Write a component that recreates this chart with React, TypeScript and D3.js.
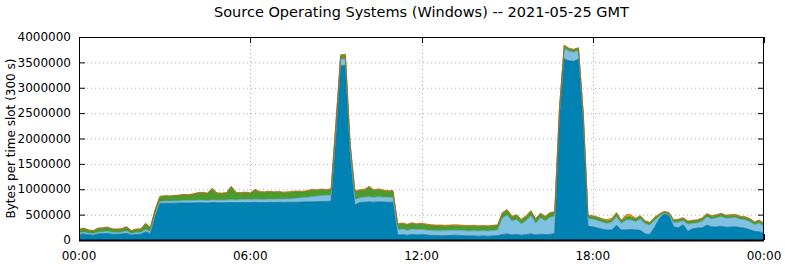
import React from "react";
import * as d3 from "d3";

// Values in thousands of bytes per 300 s slot, one value per 10 minutes (00:00 .. 24:00)
const UNIT = 1000;
const SLOT_MINUTES = 10;

const seriesNames = ["Windows A", "Windows B", "Windows C", "Windows D"];

const darkBlueK = [
  110,120,105,95,120,125,130,115,112,118,135,95,112,115,160,125,470,
  720,725,722,725,728,730,728,732,735,733,730,738,735,733,736,740,735,738,740,738,742,740,738,742,740,743,741,745,743,745,748,750,752,755,758,760,765,
  2050,3430,3440,1650,690,740,745,750,745,750,748,745,745,
  100,105,95,110,100,105,100,90,90,85,85,90,95,90,85,80,80,75,80,75,80,85,
  110,120,100,110,95,105,120,100,115,105,110,130,
  2400,3570,3530,3520,3560,2300,
  270,260,235,210,195,200,290,195,200,205,200,190,120,110,250,420,510,480,260,240,300,170,220,235,240,290,260,255,270,250,255,260,245,230,200,170,160,140,
];

const lightBlueK = [
  30,35,30,30,35,35,40,35,33,35,40,30,35,35,45,40,40,
  35,40,40,42,42,45,45,45,48,48,48,50,50,50,52,55,55,55,58,58,60,60,60,62,62,62,65,65,68,80,85,90,100,110,115,120,120,
  90,130,130,120,110,90,95,100,95,100,95,95,90,
  100,105,95,105,100,100,95,95,90,95,95,95,95,95,95,95,100,100,100,100,105,110,
  320,370,270,290,220,275,360,225,320,270,335,340,
  120,200,190,180,170,140,
  150,150,150,140,130,150,170,130,195,190,160,220,200,180,140,45,15,20,80,110,80,140,105,100,130,165,155,180,190,175,180,180,160,165,160,130,170,130,
];

const greenK = [
  62,72,58,53,72,72,77,62,62,64,82,52,60,62,115,75,80,
  90,95,93,98,100,110,107,118,137,144,132,217,130,127,132,250,135,127,132,119,183,140,137,141,133,135,124,125,134,125,112,120,133,110,117,100,110,
  140,70,70,110,150,140,140,190,130,140,122,115,120,
  105,110,105,110,105,110,105,100,95,95,90,90,90,90,90,90,95,90,90,90,90,90,
  95,95,85,85,80,85,85,80,80,80,80,75,
  60,55,45,45,45,45,
  55,55,55,55,45,45,65,50,60,60,55,55,45,45,45,35,25,30,45,45,45,50,50,50,50,50,50,50,50,50,50,50,50,50,50,45,50,45,
];

const orangeK = [
  8,8,7,7,8,8,8,8,8,8,8,8,8,8,10,10,10,
  15,15,15,15,15,15,15,15,15,15,15,15,15,15,15,15,15,15,15,15,15,15,15,15,15,15,15,15,15,15,15,15,15,15,15,15,15,
  20,20,20,20,20,20,20,20,20,20,20,20,20,
  15,15,15,15,15,15,15,15,20,20,20,20,20,20,20,20,15,15,15,15,15,15,
  15,15,15,15,15,15,15,15,15,15,15,15,
  20,15,15,15,15,15,
  15,15,15,15,30,35,15,15,45,45,15,15,15,15,15,15,15,15,15,15,15,15,15,15,15,15,15,15,15,15,15,15,15,15,15,15,15,15,
];

const xTickMinutes = [0, 360, 720, 1080, 1440];
const xTickLabels = ["00:00", "06:00", "12:00", "18:00", "00:00"];
const yTicks = [0, 500000, 1000000, 1500000, 2000000, 2500000, 3000000, 3500000, 4000000];

const titleText = "Source Operating Systems (Windows) -- 2021-05-25 GMT";
const yLabelText = "Bytes per time slot (300 s)";

const fills = ["#0082b3", "#80c1e2", "#4f9a2c", "#f2a20c"];
const strokes = ["#0a6e98", "#5aa9cf", "#3f8a22", "#b8651a"];

const W = 785, H = 264;
const M = { left: 79, right: 764, top: 37, bottom: 240 };

export default function App() {
  const rows = darkBlueK.map((_, i) => ({
    t: i * SLOT_MINUTES,
    s0: darkBlueK[i] * UNIT,
    s1: lightBlueK[i] * UNIT,
    s2: greenK[i] * UNIT,
    s3: orangeK[i] * UNIT,
  }));
  const keys = ["s0", "s1", "s2", "s3"];
  const stacked = d3.stack<any>().keys(keys)(rows);

  const x = d3.scaleLinear().domain([0, 1440]).range([M.left, M.right]);
  const y = d3.scaleLinear().domain([0, 4000000]).range([M.bottom, M.top]);

  const area = d3
    .area<any>()
    .x((d) => x(d.data.t))
    .y0((d) => y(d[0]))
    .y1((d) => y(d[1]))
    .curve(d3.curveLinear);
  const topLine = d3
    .line<any>()
    .x((d) => x(d.data.t))
    .y((d) => y(d[1]))
    .curve(d3.curveLinear);

  const font = "'DejaVu Sans', sans-serif";

  return (
    <svg
      width={W}
      height={H}
      style={{ position: "absolute", left: 0, top: 0, background: "#fff" }}
      fontFamily={font}
    >
      <rect x={0} y={0} width={W} height={H} fill="#fff" />
      {/* grid */}
      {yTicks.slice(1, -1).map((v) => (
        <line key={"gy" + v} x1={M.left} x2={M.right} y1={y(v) + 0.5} y2={y(v) + 0.5}
          stroke="#b0b0b0" strokeWidth={1} strokeDasharray="1,3" />
      ))}
      {xTickMinutes.slice(1, -1).map((m) => (
        <line key={"gx" + m} x1={Math.round(x(m)) + 0.5} x2={Math.round(x(m)) + 0.5} y1={M.top} y2={M.bottom}
          stroke="#b0b0b0" strokeWidth={1} strokeDasharray="1,3" />
      ))}
      {/* ticks */}
      {yTicks.map((v) => (
        <g key={"ty" + v}>
          <line x1={M.left} x2={M.left + 6} y1={y(v) + 0.5} y2={y(v) + 0.5} stroke="#000" />
          <line x1={M.right - 6} x2={M.right} y1={y(v) + 0.5} y2={y(v) + 0.5} stroke="#000" />
        </g>
      ))}
      {xTickMinutes.map((m, i) => (
        <g key={"tx" + i}>
          <line x1={Math.round(x(m)) + 0.5} x2={Math.round(x(m)) + 0.5} y1={M.top} y2={M.top + 6} stroke="#000" />
          <line x1={Math.round(x(m)) + 0.5} x2={Math.round(x(m)) + 0.5} y1={M.bottom - 6} y2={M.bottom} stroke="#000" />
        </g>
      ))}
      {/* stacked areas */}
      {stacked.map((layer, li) => (
        <path key={"a" + li} d={area(layer) || ""} fill={fills[li]} />
      ))}
      {stacked.map((layer, li) => (
        <path key={"l" + li} d={topLine(layer) || ""} fill="none" stroke={strokes[li]} strokeWidth={0.8} />
      ))}
      {/* border */}
      <rect x={M.left + 0.5} y={M.top + 0.5} width={M.right - M.left - 1} height={M.bottom - M.top}
        fill="none" stroke="#000" strokeWidth={1} />
      <line x1={M.left} x2={M.right} y1={M.bottom + 0.5} y2={M.bottom + 0.5} stroke="#000" strokeWidth={2} />
      {/* y tick labels */}
      {yTicks.map((v) => (
        <text key={"yl" + v} x={M.left - 8} y={y(v)} dy="0.35em" textAnchor="end" fontSize={12} fill="#000">
          {String(v)}
        </text>
      ))}
      {/* x tick labels */}
      {xTickMinutes.map((m, i) => (
        <text key={"xl" + i} x={x(m)} y={256} dy="0.35em" textAnchor="middle" fontSize={12} fill="#000">
          {xTickLabels[i]}
        </text>
      ))}
      {/* title */}
      <text x={(M.left + M.right) / 2} y={12} dy="0.35em" textAnchor="middle" fontSize={14.5} fill="#000">
        {titleText}
      </text>
      {/* y label */}
      <text transform={`translate(11,${(M.top + M.bottom) / 2}) rotate(-90)`} dy="0.35em" textAnchor="middle" fontSize={12} fill="#000">
        {yLabelText}
      </text>
    </svg>
  );
}
